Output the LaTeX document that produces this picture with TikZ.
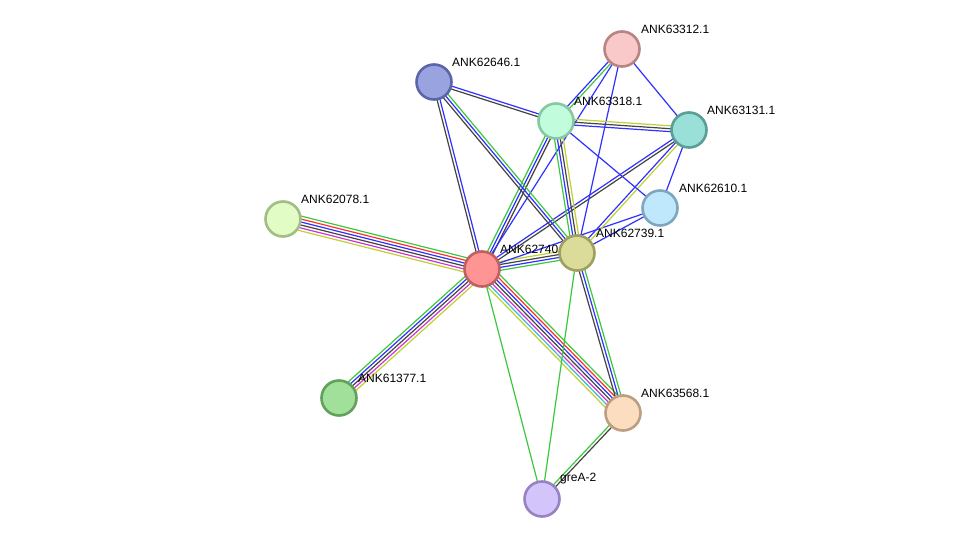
\documentclass[tikz,border=0pt]{standalone}
\usepackage{fontspec}
\setmainfont{Liberation Sans}
\usetikzlibrary{calc}

\pgfdeclarelayer{back}
\pgfdeclarelayer{edges}
\pgfsetlayers{back,edges,main}

% evidence colours
\definecolor{sgreen}{HTML}{3CC83C}
\definecolor{sred}{HTML}{FF3030}
\definecolor{sblue}{HTML}{3030FF}
\definecolor{sgray}{HTML}{444444}
\definecolor{smagenta}{HTML}{D034D0}
\definecolor{scyan}{HTML}{34BCDC}
\definecolor{syellow}{HTML}{C0D034}

\tikzset{
  prot/.style={circle, minimum size=35pt, inner sep=0pt, line width=2.6pt},
  plabel/.style={anchor=west, inner sep=0pt, font=\fontsize{12}{14}\selectfont},
  link/.style={line width=1.2pt},
}

% #1,#2 nodes, #3 number of lines, #4 colours
\newcommand{\stringlink}[4]{%
  \foreach \c [count=\i] in {#4} {
    \pgfmathsetmacro\off{(\i-(#3+1)/2)*2.9}
    \draw[link, \c] ($(#1)!\off pt!90:(#2)$) -- ($(#2)!\off pt!-90:(#1)$);
  }%
}

\begin{document}
\begin{tikzpicture}[x=1pt, y=-1pt]
  \begin{pgfonlayer}{back}
    \fill[white] (0,0) rectangle (976,545);
  \end{pgfonlayer}
  \useasboundingbox (0,0) rectangle (976,545);

  % Proteins + labels
  \node[prot, fill={rgb,255:red,249;green,201;blue,201}, draw={rgb,255:red,184;green,132;blue,132}] (n63312) at (622,49) {};
  \node[plabel] (l63312) at ([shift={(19,-20)}]n63312.center) {ANK63312.1};
  \node[prot, fill={rgb,255:red,153;green,163;blue,224}, draw={rgb,255:red,90;green,102;blue,168}] (n62646) at (434,82) {};
  \node[plabel] (l62646) at ([shift={(18,-20)}]n62646.center) {ANK62646.1};
  \node[prot, fill={rgb,255:red,193;green,252;blue,220}, draw={rgb,255:red,134;green,201;blue,161}] (n63318) at (556,121) {};
  \node[plabel] (l63318) at ([shift={(18,-20)}]n63318.center) {ANK63318.1};
  \node[prot, fill={rgb,255:red,153;green,224;blue,216}, draw={rgb,255:red,90;green,158;blue,150}] (n63131) at (689,130) {};
  \node[plabel] (l63131) at ([shift={(18,-20)}]n63131.center) {ANK63131.1};
  \node[prot, fill={rgb,255:red,192;green,232;blue,252}, draw={rgb,255:red,127;green,166;blue,190}] (n62610) at (660,208) {};
  \node[plabel] (l62610) at ([shift={(19,-20)}]n62610.center) {ANK62610.1};
  \node[prot, fill={rgb,255:red,225;green,252;blue,196}, draw={rgb,255:red,162;green,190;blue,132}] (n62078) at (283,219) {};
  \node[plabel] (l62078) at ([shift={(18,-20)}]n62078.center) {ANK62078.1};
  \node[prot, fill={rgb,255:red,255;green,148;blue,148}, draw={rgb,255:red,192;green,96;blue,96}] (n62740) at (482,269) {};
  \node[plabel] (l62740) at ([shift={(18,-20)}]n62740.center) {ANK62740.1};
  \node[prot, fill={rgb,255:red,220;green,220;blue,154}, draw={rgb,255:red,160;green,160;blue,94}] (n62739) at (577,253) {};
  \node[plabel] (l62739) at ([shift={(19,-20)}]n62739.center) {ANK62739.1};
  \node[prot, fill={rgb,255:red,161;green,224;blue,154}, draw={rgb,255:red,98;green,160;blue,92}] (n61377) at (339,398) {};
  \node[plabel] (l61377) at ([shift={(19,-20)}]n61377.center) {ANK61377.1};
  \node[prot, fill={rgb,255:red,252;green,221;blue,192}, draw={rgb,255:red,190;green,158;blue,128}] (n63568) at (623,413) {};
  \node[plabel] (l63568) at ([shift={(18,-20)}]n63568.center) {ANK63568.1};
  \node[prot, fill={rgb,255:red,212;green,196;blue,252}, draw={rgb,255:red,152;green,130;blue,194}] (ngreA) at (542,499) {};
  \node[plabel] (lgreA) at ([shift={(18,-20)}]ngreA.center) {greA-2};

  % Interactions
  \begin{pgfonlayer}{edges}
    \stringlink{n62740}{n62078}{6}{sgreen,sred,sblue,sgray,smagenta,syellow}
    \stringlink{n62740}{n61377}{5}{sgreen,sblue,sgray,smagenta,syellow}
    \stringlink{n62740}{n63568}{7}{syellow,scyan,smagenta,sgray,sblue,sred,sgreen}
    \stringlink{n62740}{ngreA}{1}{sgreen}
    \stringlink{n62740}{n62739}{4}{sgreen,sblue,sgray,syellow}
    \stringlink{n62740}{n63318}{3}{sgray,sblue,sgreen}
    \stringlink{n62740}{n62646}{2}{sblue,sgray}
    \stringlink{n62740}{n63131}{2}{sgray,sblue}
    \stringlink{n62740}{n63312}{1}{sblue}
    \stringlink{n62740}{n62610}{1}{sblue}
    \stringlink{n62739}{n63318}{4}{syellow,sgray,sblue,sgreen}
    \stringlink{n62739}{n62646}{3}{sgreen,sblue,sgray}
    \stringlink{n62739}{n63131}{2}{syellow,sblue}
    \stringlink{n62739}{n62610}{1}{sblue}
    \stringlink{n62739}{n63312}{1}{sblue}
    \stringlink{n62739}{n63568}{3}{sgray,sblue,sgreen}
    \stringlink{n62739}{ngreA}{1}{sgreen}
    \stringlink{n63568}{ngreA}{2}{sgreen,sgray}
    \stringlink{n63318}{n63312}{2}{sgreen,sblue}
    \stringlink{n63318}{n63131}{3}{sblue,sgray,syellow}
    \stringlink{n63318}{n62646}{2}{sblue,sgray}
    \stringlink{n63318}{n62610}{1}{sblue}
    \stringlink{n63312}{n63131}{1}{sblue}
    \stringlink{n63131}{n62610}{1}{sblue}
  \end{pgfonlayer}
\end{tikzpicture}
\end{document}
